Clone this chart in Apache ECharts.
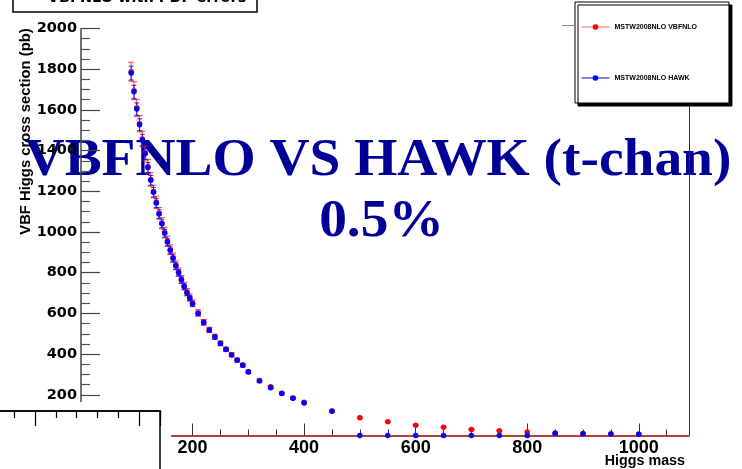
<!DOCTYPE html>
<html>
<head>
<meta charset="utf-8">
<script src="https://cdn.jsdelivr.net/npm/echarts@6/dist/echarts.min.js"></script>
<style>
  html, body { margin: 0; padding: 0; background: #fff; }
  #chart { width: 742px; height: 469px; }
</style>
</head>
<body>
<div id="chart"></div>
<script>
// Higgs mass points (GeV)
const higgsMass = [
  90, 95, 100, 105, 110, 115, 120, 125, 130, 135, 140, 145, 150, 155, 160, 165, 170, 175, 180, 185, 190, 195, 200,
  210, 220, 230, 240, 250, 260, 270, 280, 290, 300,
  320, 340, 360, 380, 400,
  450, 500, 550, 600, 650, 700, 750, 800, 850, 900, 950, 1000
];

// VBF cross sections (pb), MSTW2008NLO with VBFNLO
const xsecVBFNLO = [
  1788, 1694, 1610, 1532, 1457, 1389, 1322, 1258, 1199, 1146, 1092, 1043, 997, 954, 913, 874, 836, 802, 767, 734, 704, 678, 650,
  602, 556, 519, 485, 453, 424, 397, 371, 346, 313,
  270, 239, 208, 184, 164,
  120, 87, 68, 50, 40, 30, 23, 17, 11, 9, 7, 6
];
// PDF errors on the VBFNLO values (pb)
const errVBFNLO = [
  46, 44, 42, 40, 38, 36, 34, 33, 31, 30, 28, 27, 26, 25, 24, 23, 22, 21, 20, 19, 18, 18, 17,
  16, 14, 13, 13, 12, 11, 10, 10, 9, 8,
  7, 6, 5, 5, 4,
  3, 2, 2, 1, 1, 1, 1, 0, 0, 0, 0, 0
];

// VBF cross sections (pb), MSTW2008NLO with HAWK
const xsecHAWK = [
  1781, 1689, 1604, 1527, 1452, 1384, 1317, 1254, 1195, 1142, 1088, 1040, 994, 951, 910, 871, 833, 800, 765, 732, 702, 676, 648,
  600, 555, 518, 484, 452, 423, 396, 370, 345, 312,
  268, 235, 207, 183, 160,
  119, 0, 0, 0, 0, 0, 0, 0, 11, 9, 7, 6
];
// PDF errors on the HAWK values (pb)
const errHAWK = [
  34, 32, 30, 29, 28, 26, 25, 24, 23, 22, 21, 20, 19, 18, 17, 17, 16, 15, 15, 14, 13, 13, 12,
  11, 11, 10, 9, 9, 8, 8, 7, 7, 6,
  5, 4, 4, 3, 3,
  2, 0, 0, 0, 0, 0, 0, 0, 0, 0, 0, 0
];

const seriesNames = ['MSTW2008NLO VBFNLO', 'MSTW2008NLO HAWK'];

// Axis ranges
const X_MIN = 0, X_MAX = 1090, X_FRAME_START = 162;
const Y_MIN = 0, Y_MAX = 2000;

// Pad geometry (pixels)
const PLOT_LEFT = 81, PLOT_RIGHT = 689, PLOT_TOP = 28.5, PLOT_BOTTOM = 435.5;
const PLOT_W = PLOT_RIGHT - PLOT_LEFT, PLOT_H = PLOT_BOTTOM - PLOT_TOP;
const FRAME_LEFT = PLOT_LEFT + (X_FRAME_START - X_MIN) * PLOT_W / (X_MAX - X_MIN);

const RED = '#ff0000', BLUE = '#0000ff', FRAME_RED = '#9a0000';

function errorBars(color, capHalf, opacity) {
  return function (params, api) {
    const x = api.value(0), y = api.value(1), e = api.value(2);
    if (!(e > 0)) return null;
    const top = api.coord([x, y + e]);
    const bot = api.coord([x, y - e]);
    const style = { stroke: color, lineWidth: 1, opacity: opacity };
    return {
      type: 'group',
      children: [
        { type: 'line', shape: { x1: top[0], y1: top[1], x2: bot[0], y2: bot[1] }, style: style },
        { type: 'line', shape: { x1: top[0] - capHalf, y1: top[1], x2: top[0] + capHalf, y2: top[1] }, style: style },
        { type: 'line', shape: { x1: bot[0] - capHalf, y1: bot[1], x2: bot[0] + capHalf, y2: bot[1] }, style: style }
      ]
    };
  };
}

const withErr = (vals, errs) => higgsMass.map((m, i) => [m, vals[i], errs[i]]);
const points = (vals) => higgsMass.map((m, i) => [m, vals[i]]);

const hidden = { show: false };
const plain = (v) => String(v);
const chart = echarts.init(document.getElementById('chart'), null, { renderer: 'canvas' });

chart.setOption({
  animation: false,
  backgroundColor: '#fff',
  grid: [
    // y-axis pad (full mass range)
    { left: PLOT_LEFT, top: PLOT_TOP, width: PLOT_W, height: PLOT_H, containLabel: false, outerBoundsMode: 'none' },
    // frame pad with the red x axis and right edge
    { left: FRAME_LEFT, top: PLOT_TOP, width: PLOT_RIGHT - FRAME_LEFT, height: PLOT_H, containLabel: false, outerBoundsMode: 'none' },
    // small pad at the lower left
    { left: -69, top: 411, width: 229, height: 100, show: true, backgroundColor: '#fff',
      borderColor: '#000', borderWidth: 1.5, z: 10, containLabel: false, outerBoundsMode: 'none' }
  ],
  xAxis: [
    { // minor ticks every 50
      type: 'value', gridIndex: 0, position: 'bottom', min: X_MIN, max: X_MAX, interval: 50,
      axisLine: { show: false, onZero: false }, splitLine: hidden, axisLabel: hidden,
      axisTick: { show: true, inside: true, length: 6, lineStyle: { color: '#333', width: 1 } }
    },
    { // major ticks and labels
      type: 'value', gridIndex: 0, position: 'bottom', offset: 0, min: X_MIN, max: X_MAX, interval: 200,
      axisLine: { show: false, onZero: false }, splitLine: hidden,
      axisTick: { show: true, inside: true, length: 12, lineStyle: { color: '#333', width: 1 } },
      axisLabel: { show: true, margin: 4, showMaxLabel: false, color: '#000', formatter: plain,
        fontFamily: 'Liberation Sans, Arial, sans-serif', fontWeight: 'bold', fontSize: 18 }
    },
    { // red frame bottom
      type: 'value', gridIndex: 1, position: 'bottom', min: X_FRAME_START, max: X_MAX,
      axisLine: { show: true, onZero: false, lineStyle: { color: FRAME_RED, width: 1.5 } },
      axisTick: hidden, axisLabel: hidden, splitLine: hidden
    },
    { // ticks of the small pad
      type: 'value', gridIndex: 2, position: 'top', min: -104, max: 125, interval: 104, z: 11,
      axisLine: { show: true, onZero: false, lineStyle: { color: '#000', width: 1.5 } },
      axisTick: { show: true, inside: true, length: 15, lineStyle: { color: '#000', width: 1.2 } },
      minorTick: { show: true, splitNumber: 5, length: 7, lineStyle: { color: '#000', width: 1.2 } },
      axisLabel: hidden, splitLine: hidden
    }
  ],
  yAxis: [
    {
      type: 'value', gridIndex: 0, position: 'left', min: Y_MIN, max: Y_MAX, interval: 200,
      axisLine: { show: true, onZero: false, lineStyle: { color: '#444', width: 1.5 } },
      axisTick: { show: true, inside: true, length: 19, lineStyle: { color: '#444', width: 1.2 } },
      minorTick: { show: true, splitNumber: 4, length: 9, lineStyle: { color: '#555', width: 1.2 } },
      splitLine: hidden,
      axisLabel: { show: true, margin: 4, color: '#000', formatter: plain,
        fontFamily: 'DejaVu Sans, sans-serif', fontWeight: 'bold', fontSize: 14.5 }
    },
    {
      type: 'value', gridIndex: 1, position: 'right', min: Y_MIN, max: Y_MAX,
      axisLine: { show: true, onZero: false, lineStyle: { color: FRAME_RED, width: 1 } },
      axisTick: hidden, axisLabel: hidden, splitLine: hidden
    },
    { type: 'value', gridIndex: 2, min: 0, max: 1, show: false }
  ],
  legend: {
    left: 575, top: 2, orient: 'vertical',
    padding: [21, 32, 21, 6],
    itemGap: 43, itemWidth: 28, itemHeight: 7,
    backgroundColor: '#fff', borderColor: '#000', borderWidth: 1,
    shadowColor: '#000', shadowBlur: 0, shadowOffsetX: 3, shadowOffsetY: 3,
    selectedMode: false,
    lineStyle: { width: 1, opacity: 1 },
    textStyle: { fontFamily: 'Liberation Sans, Arial, sans-serif', fontWeight: 'bold', fontSize: 7, lineHeight: 8, color: '#000' },
    data: [
      { name: seriesNames[0], lineStyle: { color: '#ff6a6a', width: 1, opacity: 1 } },
      { name: seriesNames[1], lineStyle: { color: BLUE, width: 1, opacity: 1 } }
    ]
  },
  graphic: [
    { // cover for the lower end of the y-axis pad
      type: 'rect', z: 5, silent: true,
      shape: { x: 0, y: 402, width: FRAME_LEFT - 0.4, height: 67 },
      style: { fill: '#fff' }
    },
    { // header box at the top
      type: 'group', z: 6, silent: true,
      children: [
        { type: 'rect', shape: { x: 13, y: -20, width: 244, height: 32 },
          style: { fill: '#fff', stroke: '#000', lineWidth: 1.5 } },
        { type: 'text', x: 147, y: 6,
          style: { text: 'VBFNLO with PDF errors', align: 'center', verticalAlign: 'bottom',
            font: 'bold 14.5px "DejaVu Sans", sans-serif', fill: '#000' } }
      ]
    },
    { type: 'line', z: 6, silent: true, shape: { x1: 562, y1: 25.5, x2: 575, y2: 25.5 },
      style: { stroke: '#888', lineWidth: 1 } },
    { // y-axis title
      type: 'text', x: 26, y: 131.5, rotation: Math.PI / 2, z: 1, silent: true,
      style: { text: 'VBF Higgs cross section (pb)', align: 'center', verticalAlign: 'middle',
        font: 'bold 14.8px "Liberation Sans", Arial, sans-serif', fill: '#000' }
    },
    { // x-axis title
      type: 'text', x: 685, y: 461, z: 1, silent: true,
      style: { text: 'Higgs mass', align: 'right', verticalAlign: 'middle',
        font: 'bold 14.3px "Liberation Sans", Arial, sans-serif', fill: '#000' }
    },
    { // large caption
      type: 'text', x: 378, y: 162, scaleX: 1.066, z: -1, silent: true,
      style: { text: 'VBFNLO VS HAWK (t-chan)', align: 'center', verticalAlign: 'middle',
        font: 'bold 52px "Liberation Serif", "Times New Roman", serif', fill: '#000099' }
    },
    {
      type: 'text', x: 381.5, y: 223, scaleX: 1.066, z: -1, silent: true,
      style: { text: '0.5%', align: 'center', verticalAlign: 'middle',
        font: 'bold 52px "Liberation Serif", "Times New Roman", serif', fill: '#000099' }
    }
  ],
  series: [
    {
      name: seriesNames[0] + ' errors', type: 'custom', xAxisIndex: 0, yAxisIndex: 0, clip: false, silent: true,
      renderItem: errorBars(RED, 3, 0.75),
      encode: { x: 0, y: 1 },
      data: withErr(xsecVBFNLO, errVBFNLO)
    },
    {
      name: seriesNames[0], type: 'line', xAxisIndex: 0, yAxisIndex: 0, clip: false, silent: true,
      symbol: 'circle', symbolSize: 5.5, showSymbol: true,
      itemStyle: { color: RED }, lineStyle: { width: 0, opacity: 0, color: RED },
      emphasis: { disabled: true },
      data: points(xsecVBFNLO)
    },
    {
      name: seriesNames[1] + ' errors', type: 'custom', xAxisIndex: 0, yAxisIndex: 0, clip: false, silent: true,
      renderItem: errorBars(BLUE, 2.5, 0.85),
      encode: { x: 0, y: 1 },
      data: withErr(xsecHAWK, errHAWK)
    },
    {
      name: seriesNames[1], type: 'line', xAxisIndex: 0, yAxisIndex: 0, clip: false, silent: true,
      symbol: 'circle', symbolSize: 5.5, showSymbol: true,
      itemStyle: { color: BLUE }, lineStyle: { width: 0, opacity: 0, color: BLUE },
      emphasis: { disabled: true },
      data: points(xsecHAWK)
    }
  ]
});
</script>
</body>
</html>
